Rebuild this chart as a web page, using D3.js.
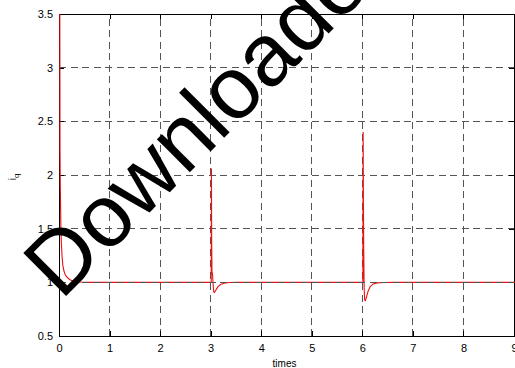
<!DOCTYPE html>
<html>
<head>
<meta charset="utf-8">
<script src="https://cdn.jsdelivr.net/npm/d3@7"></script>
<style>
  html, body { margin: 0; padding: 0; background: #fff; }
  svg { display: block; font-family: "Liberation Sans", Arial, Helvetica, sans-serif; }
</style>
</head>
<body>
<svg id="chart" width="515" height="368"></svg>
<script>
// q-axis current response: start-up transient, then load steps at 3 s and 6 s
const timeS = [0, 0.004, 0.01, 0.02, 0.03, 0.045, 0.06, 0.08, 0.1, 0.13, 0.16, 0.2, 0.25, 0.3, 0.4, 0.6,
  2.995, 3.0, 3.004, 3.01, 3.02, 3.03, 3.045, 3.06, 3.09, 3.13, 3.18, 3.25, 3.35, 3.5,
  5.995, 6.0, 6.005, 6.012, 6.02, 6.03, 6.045, 6.07, 6.1, 6.14, 6.2, 6.28, 6.4, 6.6, 9.0];
const iqValues = [3.7, 2.24, 1.9, 1.55, 1.38, 1.24, 1.16, 1.11, 1.08, 1.055, 1.04, 1.025, 1.015, 1.008, 1.003, 1.0,
  1.0, 2.06, 1.4, 1.1, 1.08, 1.0, 0.91, 0.905, 0.93, 0.96, 0.98, 0.992, 0.998, 1.0,
  1.0, 2.4, 1.8, 1.3, 0.95, 0.835, 0.83, 0.87, 0.92, 0.96, 0.985, 0.995, 0.999, 1.0, 1.0];

// constant reference current
const refTimes = [0, 9];
const refValues = [1, 1];

const xTicks = [0, 1, 2, 3, 4, 5, 6, 7, 8, 9];
const yTicks = [0.5, 1, 1.5, 2, 2.5, 3, 3.5];
const yTickLabels = ["0.5", "1", "1.5", "2", "2.5", "3", "3.5"];

const W = 515, H = 368;
const m = { left: 59, top: 14, right: 1, bottom: 32 };
const x = d3.scaleLinear().domain([0, 9]).range([m.left, W - m.right]);
const y = d3.scaleLinear().domain([0.5, 3.5]).range([H - m.bottom, m.top]);

const svg = d3.select("#chart");
svg.append("rect").attr("width", W).attr("height", H).attr("fill", "#fff");

svg.append("defs").append("clipPath").attr("id", "plotClip")
  .append("rect")
  .attr("x", x(0)).attr("y", y(3.5))
  .attr("width", x(9) - x(0) + 1).attr("height", y(0.5) - y(3.5));

const dash = "7,4.5";
const gridColor = "#555";

// dashed grid
const grid = svg.append("g").attr("shape-rendering", "crispEdges");
grid.selectAll("line.gx").data(xTicks.slice(1, -1)).join("line")
  .attr("x1", d => x(d)).attr("x2", d => x(d))
  .attr("y1", y(0.5)).attr("y2", y(3.5))
  .attr("stroke", gridColor).attr("stroke-dasharray", dash);
grid.selectAll("line.gy").data(yTicks.slice(1, -1)).join("line")
  .attr("y1", d => y(d)).attr("y2", d => y(d))
  .attr("x1", x(0)).attr("x2", x(9))
  .attr("stroke", gridColor).attr("stroke-dasharray", dash);

// axes: ticks pointing inward on all four sides
const tickLen = 5;
const axBottom = svg.append("g").attr("transform", `translate(0,${y(0.5)})`)
  .call(d3.axisBottom(x).tickValues(xTicks).tickSize(-tickLen).tickPadding(8).tickFormat(d3.format("d")));
const axTop = svg.append("g").attr("transform", `translate(0,${y(3.5)})`)
  .call(d3.axisTop(x).tickValues(xTicks).tickSize(-tickLen).tickFormat(""));
const axLeft = svg.append("g").attr("transform", `translate(${x(0)},0)`)
  .call(d3.axisLeft(y).tickValues(yTicks).tickSize(-tickLen).tickPadding(6)
    .tickFormat((d, i) => yTickLabels[i]));
const axRight = svg.append("g").attr("transform", `translate(${x(9)},0)`)
  .call(d3.axisRight(y).tickValues(yTicks).tickSize(-tickLen).tickFormat(""));

[axBottom, axTop, axLeft, axRight].forEach(g => {
  g.attr("shape-rendering", "crispEdges");
  g.select(".domain").attr("stroke", "#000");
  g.selectAll(".tick line").attr("stroke", "#000");
  g.selectAll("text").attr("fill", "#000").attr("font-size", 11)
    .attr("font-family", "\"Liberation Sans\", Arial, sans-serif");
});

// data lines, drawn over the axes box
const plot = svg.append("g").attr("clip-path", "url(#plotClip)");
const line = d3.line().x(d => x(d[0])).y(d => y(d[1]));

plot.append("path")
  .datum(timeS.map((t, i) => [t, iqValues[i]]))
  .attr("d", line)
  .attr("transform", "translate(0.8,0)")
  .attr("fill", "none")
  .attr("stroke", "#f01010")
  .attr("stroke-width", 1.1);

plot.append("path")
  .datum(refTimes.map((t, i) => [t, refValues[i]]))
  .attr("d", line)
  .attr("fill", "none")
  .attr("stroke", gridColor)
  .attr("stroke-dasharray", dash)
  .attr("shape-rendering", "crispEdges");

// axis titles
svg.append("text")
  .attr("x", (x(0) + x(9)) / 2 - 2).attr("y", H - 1)
  .attr("text-anchor", "middle").attr("font-size", 10).attr("fill", "#000")
  .text("times");

const yl = svg.append("text")
  .attr("transform", `translate(16,${(y(0.5) + y(3.5)) / 2 + 2}) rotate(-90)`)
  .attr("text-anchor", "middle").attr("font-size", 10).attr("fill", "#000");
yl.append("tspan").text("i");
yl.append("tspan").attr("font-size", 8).attr("dy", 3).text("q");

// diagonal overlay text
svg.append("text")
  .attr("transform", "translate(61,301) rotate(-45)")
  .attr("font-size", 88).attr("fill", "#000")
  .attr("font-family", "\"Liberation Sans\", Arial, sans-serif")
  .text("Downloaded");
</script>
</body>
</html>
